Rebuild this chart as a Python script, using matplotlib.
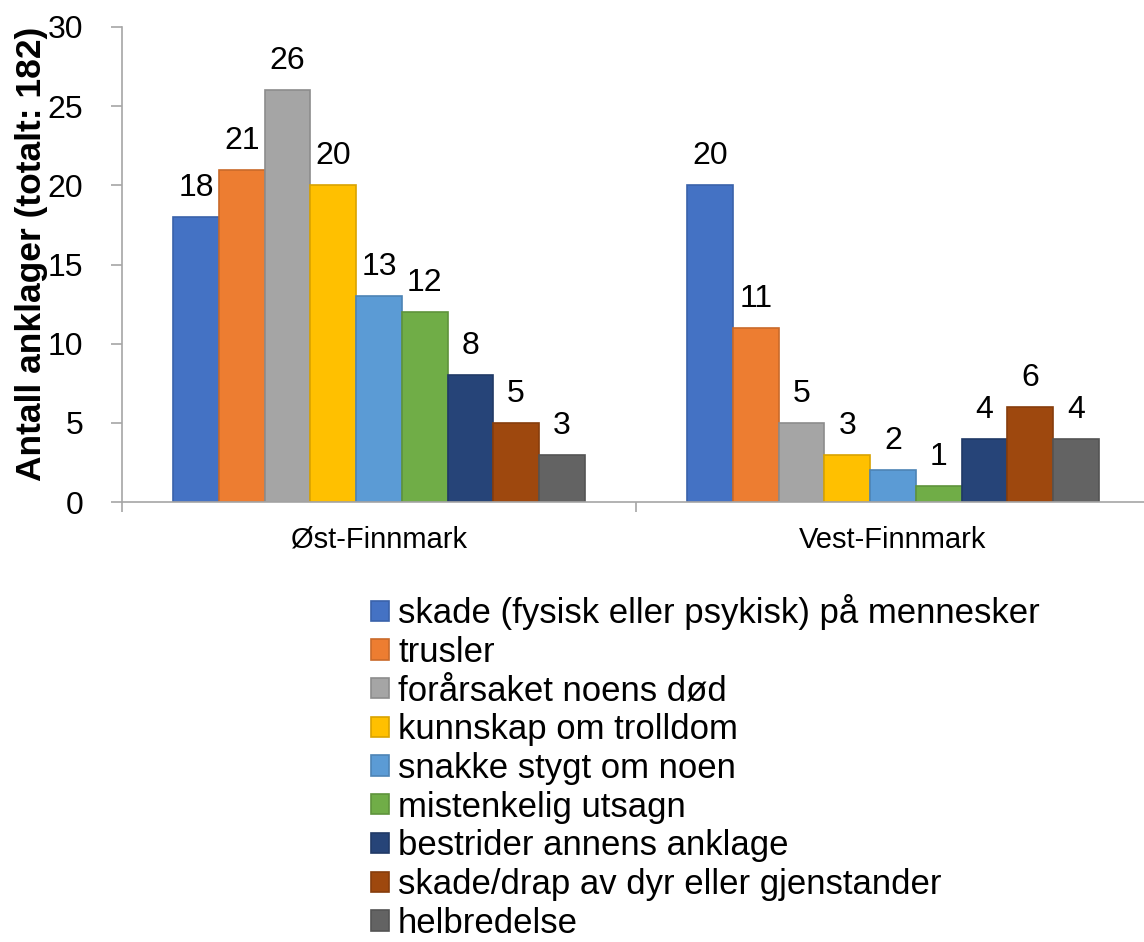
import matplotlib
matplotlib.use("Agg")
import matplotlib.pyplot as plt
import numpy as np

plt.rcParams['font.family'] = ['Liberation Sans', 'DejaVu Sans']

regions = ["Øst-Finnmark", "Vest-Finnmark"]
series = [
    "skade (fysisk eller psykisk) på mennesker",
    "trusler",
    "forårsaket noens død",
    "kunnskap om trolldom",
    "snakke stygt om noen",
    "mistenkelig utsagn",
    "bestrider annens anklage",
    "skade/drap av dyr eller gjenstander",
    "helbredelse",
]
ost_values = [18, 21, 26, 20, 13, 12, 8, 5, 3]
vest_values = [20, 11, 5, 3, 2, 1, 4, 6, 4]
colors = ["#4472C4", "#ED7D31", "#A5A5A5", "#FFC000", "#5B9BD5",
          "#70AD47", "#264478", "#9E480E", "#636363"]
edges = ["#3A62AA", "#C96A2A", "#8C8C8C", "#D9A300", "#4D84B5",
         "#5F933C", "#203A66", "#863D0C", "#545454"]

fig = plt.figure(figsize=(11.44, 9.42), dpi=100)
ax = fig.add_axes([122/1144, 1-502/942, 1028/1144, 475/942])

n = len(series)
bw = 0.8 / n
x = np.arange(len(regions))
for i in range(n):
    vals = [ost_values[i], vest_values[i]]
    pos = x - 0.4 + bw * (i + 0.5)
    ax.bar(pos, vals, width=bw, color=colors[i], edgecolor=edges[i],
           linewidth=1.2, label=series[i], zorder=2)
    for p, v in zip(pos, vals):
        ax.annotate(str(v), (p, v), xytext=(0, 10), textcoords="offset points",
                    ha="center", va="bottom", fontsize=23, color="black")

ax.set_xlim(-0.5, 1.5)
ax.set_ylim(0, 30)
ax.set_yticks(range(0, 31, 5))
ax.tick_params(axis='y', labelsize=23, length=8, color="#A6A6A6", width=1.2, pad=20)
ax.set_xticks([-0.5, 0.5, 1.5])
ax.set_xticklabels([])
ax.set_xticks(x, minor=True)
ax.set_xticklabels(regions, minor=True, fontsize=21)
ax.tick_params(axis='x', which='major', length=7, color="#A6A6A6", width=1.2)
ax.tick_params(axis='x', which='minor', length=0, pad=17)
for s in ["top", "right"]:
    ax.spines[s].set_visible(False)
for s in ["left", "bottom"]:
    ax.spines[s].set_color("#A6A6A6")
    ax.spines[s].set_linewidth(1.2)

ax.set_ylabel("Antall anklager (totalt: 182)", fontsize=25.5, fontweight="bold")
ax.yaxis.set_label_coords((48 - 122) / 1028, (502 - 254) / 475)

fig.legend(loc="upper left", bbox_to_anchor=(371/1144, 1-594/942), frameon=False,
           fontsize=25, handlelength=0.52, handleheight=0.52, handletextpad=0.26,
           labelspacing=0.165, borderpad=0, borderaxespad=0)

fig.savefig("out.png", dpi=100)
